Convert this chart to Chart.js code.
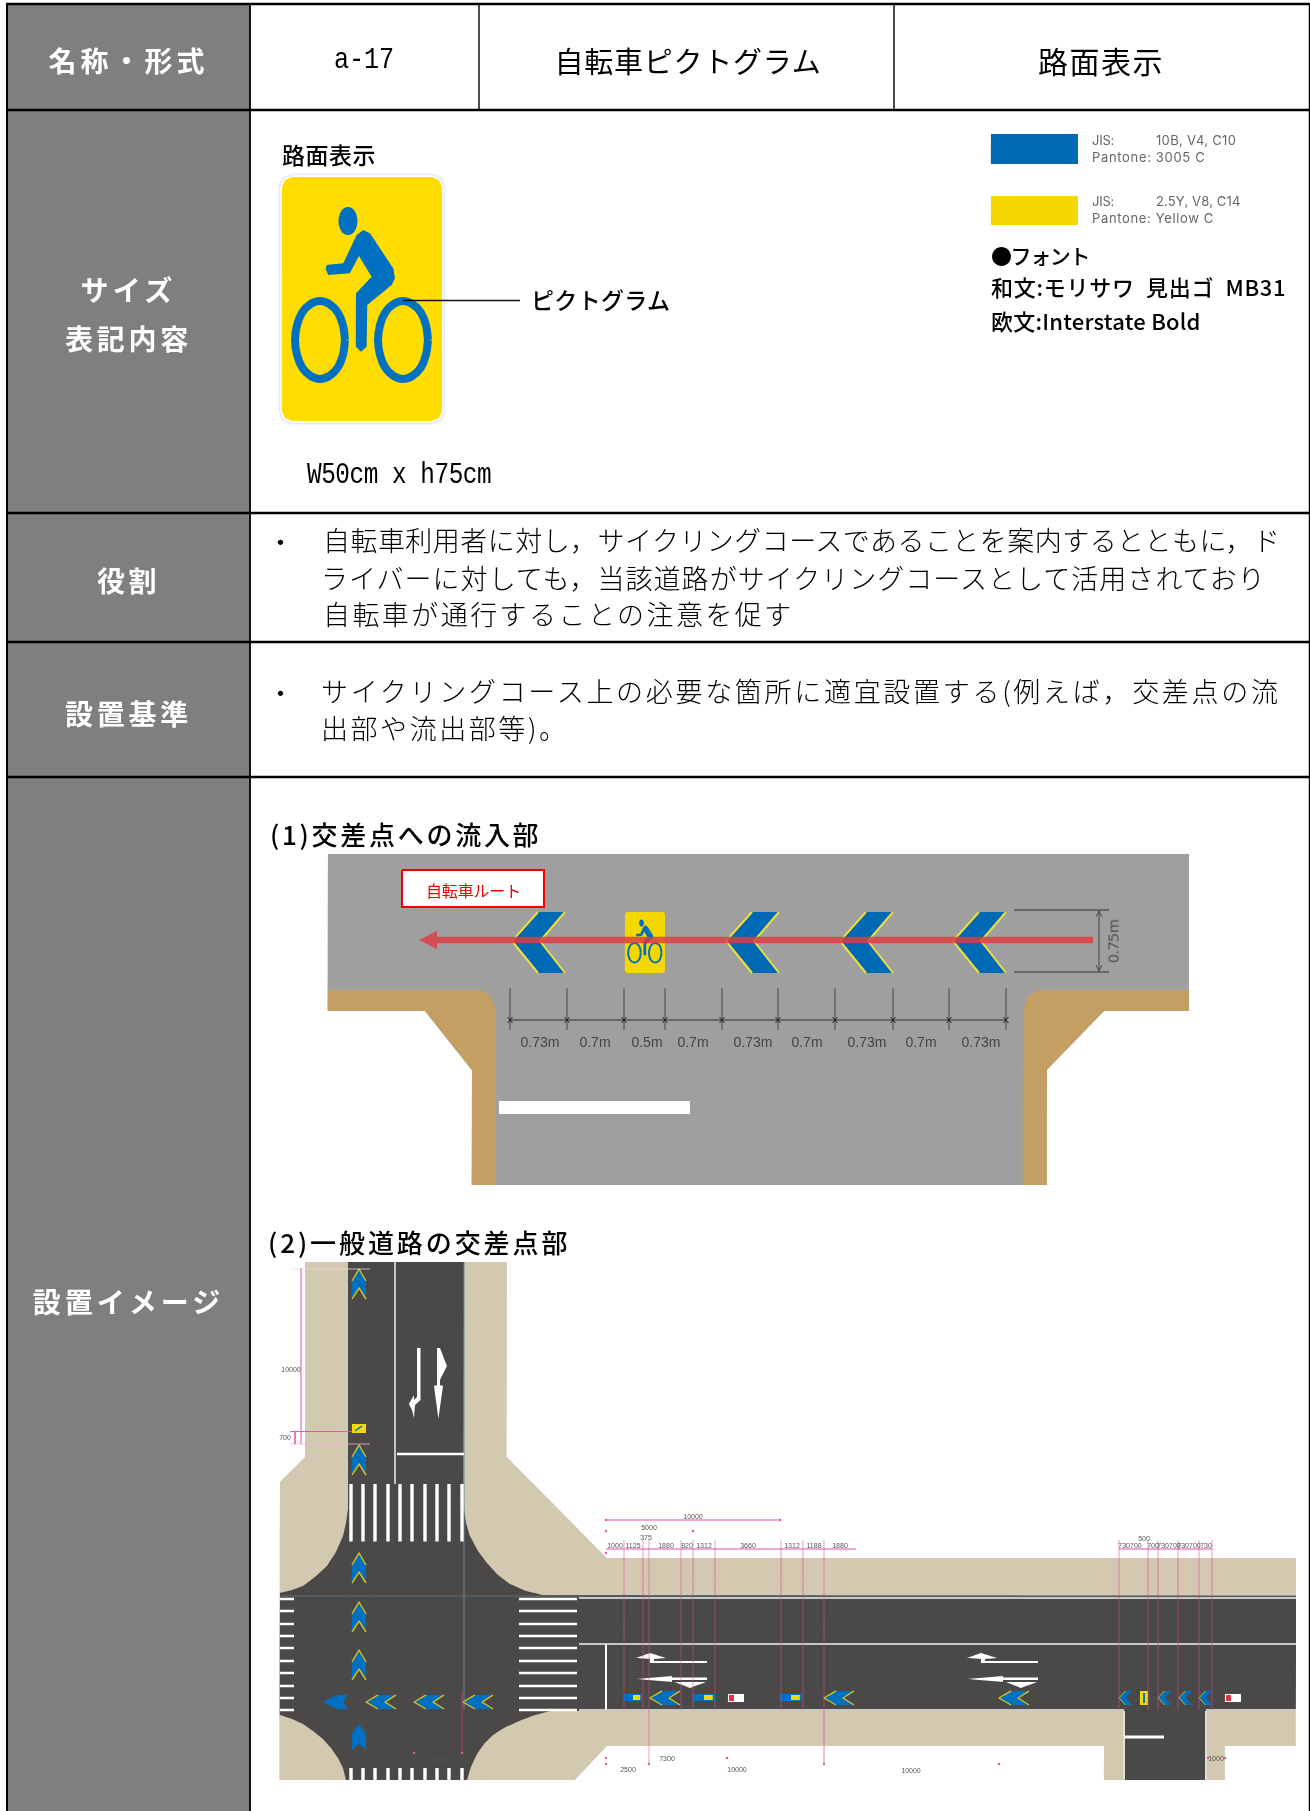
<!DOCTYPE html>
<html lang="ja">
<head>
<meta charset="utf-8">
<title>a-17 自転車ピクトグラム</title>
<script src="https://cdn.jsdelivr.net/npm/chart.js@4"></script>
<style>
  html, body { margin: 0; background: #fff; }
  #page { position: relative; width: 1310px; height: 1811px; overflow: hidden; }
  #sheet { position: absolute; left: 0; top: 0; }
  #page span { position: absolute; white-space: pre; line-height: 1; font-family: "Noto Sans CJK JP", sans-serif; }
</style>
</head>
<body>
<div id="page"><canvas id="sheet" width="1310" height="1811"></canvas></div>
<script>
// table grid
const rowLines = [4, 110, 513, 642, 777];
const columnLines = [479, 894];

const signOutline = [[292,177],[432,177],[439,180],[442,187],[442,411],[439,418],[432,421],[292,421],[285,418],[282,411],[282,187],[285,180]];
const riderOutline = [[325.7,269.3],[326.7,265],[343.3,263.3],[356.7,235],[363.3,230],[370,233.3],[393.3,268.3],[395,278.3],[391.7,285],[367.3,305],[366.7,346.7],[361,351.7],[356,346.7],[356,293.3],[371.7,276.7],[359,256],[350,273.3],[328.3,275]];
const roundOutline = [[1,0],[.92,.38],[.71,.71],[.38,.92],[0,1],[-.38,.92],[-.71,.71],[-.92,.38],[-1,0],[-.92,-.38],[-.71,-.71],[-.38,-.92],[0,-1],[.38,-.92],[.71,-.71],[.92,-.38],[1,0]];

// (1) approach diagram
const bigChevronOutline = [[0,29],[26,0],[53,0],[28,29],[53,61],[26,61]];
const bigChevronLeftEdge = [[26,0],[0,29],[26,61]];
const bigChevronRightEdge = [[53,0],[28,29],[53,61]];
const bigChevronTips = [512, 726, 840, 953];
const dimTicks = [510, 567, 624, 665, 722, 778, 835, 893, 949, 1006];
const dimLabels = ["0.73m", "0.7m", "0.5m", "0.7m", "0.73m", "0.7m", "0.73m", "0.7m", "0.73m"];
const dimLabelCentres = [540, 595, 647, 693, 753, 807, 867, 921, 981];
const kerbLeft = [[328,990],[480,990],[490,995],[496,1010],[496,1185],[472,1185],[472,1070],[425,1011],[328,1011]];
const kerbRight = [[1189,990],[1037,990],[1028,996],[1023,1012],[1023,1185],[1047,1185],[1047,1070],[1104,1011],[1189,1011]];
const yardLeft = [[326,1011],[425,1011],[472,1070],[472,1187],[326,1187]];
const yardRight = [[1047,1070],[1104,1011],[1191,1011],[1191,1187],[1047,1187]];

// (2) junction diagram
const groundOutline = [[305,1262],[507,1262],[507,1457],[607,1558],[1296,1558],[1296,1746],[1225,1746],[1225,1780],[1104,1780],[1104,1746],[607,1746],[575,1780],[280,1780],[280,1482],[305,1457]];
const roadOutline = [[348,1262],[464,1262],[464,1509],[466,1523],[470,1536],[478,1551],[487,1563],[498,1575],[510,1584],[526,1591],[543,1595],[1296,1596],[1296,1711],[550,1711],[532,1716],[517,1722],[504,1728],[493,1735],[484,1744],[477,1754],[471,1767],[467,1780],[346,1780],[343,1768],[338,1758],[331,1748],[323,1739],[313,1731],[303,1724],[292,1719],[280,1715],[280,1593],[292,1590],[303,1586],[315,1577],[327,1566],[336,1552],[343,1536],[346,1523],[348,1509]];
const northBars = [351, 363, 375, 388, 400, 412, 425, 437, 449, 462];
const crossBars = [1599, 1611, 1624, 1636, 1648, 1661, 1673, 1686, 1698, 1710];
const upPairBody = [[-7,12],[0,0],[7,12],[7,30],[0,19],[-7,30]];
const upPairTop = [[-7,12],[0,0],[7,12]];
const upPairLow = [[-7,30],[0,19],[7,30]];
const upPairTops = [1269, 1445, 1553, 1602, 1650];
const leftPairs = [[366,1702],[414,1702],[463,1702],[650,1698],[824,1698],[999,1698]];
const narrowChevrons = [1119, 1158, 1179, 1199];
const blueTags = [[624,18],[693,22],[780,22]];
const redTags = [728, 1225];
const turnLeftArrow = [[417,1348],[420.5,1348],[420.5,1400],[415,1405],[414,1418],[412,1410],[409,1404],[414,1395],[414,1400],[417,1397]];
const straightRightArrow = [[437,1348],[440,1348],[447,1366],[440,1380],[440,1385],[443,1386],[438.5,1419],[434,1386],[437,1385]];
const laneArrowA = [[636,1658],[650,1653],[666,1658],[654,1659],[654,1661],[707,1661],[707,1663],[650,1663],[650,1659]];
const laneArrowB = [[637,1679],[672,1676],[672,1677.5],[707,1677.5],[707,1680],[672,1680],[672,1682]];
const laneArrowC = [[675,1682],[706,1682],[690,1688]];
const laneArrowOffsets = [0, 331];
const pinkDrops = [624, 643, 649, 681, 693, 715, 781, 803, 824, 1119, 1148, 1158, 1178, 1199, 1212];
const pinkDots = [[606,1520],[780,1520],[606,1531],[693,1531],[606,1553],[606,1758],[727,1758],[606,1764],[649,1764],[824,1764],[999,1764],[1208,1758],[1225,1758],[414,1753],[462,1753]];
const smallDims = [["10000",693,1516],["5000",649,1527],["375",646,1537],["1000",615,1545],["1125",633,1545],["1880",666,1545],["820",687,1545],["1312",704,1545],["3660",748,1545],["1312",792,1545],["1188",814,1545],["1880",840,1545],["500",1144,1538],["730700",1130,1545],["700",1153,1545],["730700",1169,1545],["730700",1189,1545],["730",1206,1545],["7300",667,1758],["2500",628,1769],["10000",737,1769],["10000",911,1770],["1000",1216,1758],["10000",291,1369],["700",285,1437],["2860",440,1759]];

// colours
const GREY = "#7f7f7f", BLUE = "#0070c0", YELLOW = "#ffdd00", CHIP = "#f5d800", ROAD = "#4b4947", TAN = "#d3c8b0", KERB = "#c49f63", PAVE = "#9f9f9f", PINK = "#e0559f", PALE = "#f4a6d2";

const sets = [];
const toXY = pts => pts.map(p => ({ x: p[0], y: p[1] }));
const closed = pts => pts.concat([pts[0]]);
function poly(pts, color, edge, w, bend) {
  sets.push({ data: toXY(closed(pts)), fill: "shape", backgroundColor: color, borderColor: edge || color, borderWidth: w === undefined ? 0 : w, tension: bend || 0.0001 });
}
function line(pts, color, w, bend) {
  sets.push({ data: toXY(pts), fill: false, borderColor: color, borderWidth: w, tension: bend || 0.0001 });
}
function box(x0, y0, x1, y1, color, edge, w) {
  poly([[x0,y0],[x1,y0],[x1,y1],[x0,y1]], color, edge, w);
}
const move = (pts, ox, oy, sx = 1, sy = sx) => pts.map(p => [ox + p[0] * sx, oy + p[1] * sy]);
// sideways version of the up pointing pair, same pieces with x and y swapped
const sideways = (pts, ox, oy) => pts.map(p => [ox + p[1], oy + p[0]]);

function drawSign(x, y, k, ky) {
  const put = pts => pts.map(p => [x + (p[0] - 282) * k, y + (p[1] - 177) * ky]);
  poly(put(signOutline), k > 0.5 ? YELLOW : CHIP);
  poly(put(riderOutline), BLUE);
  poly(put(move(roundOutline, 348, 221, 9.5, 14)), BLUE, null, 0, 0.4);
  line(put(move(roundOutline, 320, 340, 25, 39)), BLUE, 8 * k, 0.4);
  line(put(move(roundOutline, 403, 340, 25, 39)), BLUE, 8 * k, 0.4);
}
function bigChevron(x) {
  poly(move(bigChevronOutline, x, 912), "#0069b4");
  line(move(bigChevronLeftEdge, x, 912), "#f0dc3a", 2);
  line(move(bigChevronRightEdge, x, 912), "#f0dc3a", 2);
}

// grey label column
box(8, 4, 250, 1811, GREY);

// big sign with halo
line(closed(signOutline), "#e6edf7", 7);
line(closed(signOutline), "#ffffff", 3);
drawSign(282, 177, 1, 1);
line([[403,300.5],[520,300.5]], "#111", 1.6);
box(991, 134, 1078, 164, "#0069b4");
box(991, 196, 1078, 225, "#f5d800");

// (1) approach diagram
box(328, 854, 1189, 1185, PAVE);
poly(yardLeft, "#fff");
poly(yardRight, "#fff");
poly(kerbLeft, KERB);
poly(kerbRight, KERB);
box(499, 1101, 690, 1114, "#fff");
bigChevronTips.forEach(bigChevron);
drawSign(625, 912, 0.25, 0.25);
line([[1093,940],[437,940]], "rgba(222,60,64,0.82)", 6.5);
poly([[419,940],[437,931],[437,949]], "rgba(222,60,64,0.82)");
box(402, 870, 544, 907, "#fff", "#f00000", 2);
line([[510,1020],[1006,1020]], "#555", 1.5);
dimTicks.forEach(x => {
  line([[x,988],[x,1030]], "#444", 1);
  line([[x - 2.5,1017],[x + 2.5,1023]], "#222", 1);
  line([[x - 2.5,1023],[x + 2.5,1017]], "#222", 1);
});
line([[1014,910],[1109,910]], "#555", 1.5);
line([[1014,972],[1109,972]], "#555", 1.5);
line([[1099,911],[1099,971]], "#444", 1);
line([[1096,917],[1099,911],[1102,917]], "#444", 1);
line([[1096,965],[1099,971],[1102,965]], "#444", 1);

// (2) junction diagram
poly(groundOutline, TAN);
poly(roadOutline, ROAD);
box(1124, 1710, 1206, 1780, ROAD);
line([[280,1596],[1296,1596]], "#56707f", 1);
line([[464,1262],[464,1710]], "#6b8490", 1);
line([[395,1262],[395,1484]], "#c4c4c4", 2);
line([[397,1454],[464,1454]], "#fff", 2.5);
northBars.forEach(x => {
  box(x - 1.7, 1484, x + 1.7, 1541.5, "#fff");
  box(x - 1.7, 1768, x + 1.7, 1780, "#fff");
});
crossBars.forEach(y => {
  box(280, y - 1.2, 294, y + 1.2, "#fff");
  box(519, y - 1.2, 577, y + 1.2, "#fff");
});
line([[579,1598],[1296,1598]], "#c8c8c8", 2);
line([[579,1644],[1296,1644]], "#c8c8c8", 2);
line([[579,1710],[1124,1710]], "#c8c8c8", 2);
line([[1206,1710],[1296,1710]], "#c8c8c8", 2);
line([[606,1644],[606,1710]], "#fff", 2);
line([[1124,1711],[1124,1780]], "#e0e0e0", 2);
line([[1206,1711],[1206,1780]], "#e0e0e0", 2);
line([[1124,1737],[1164,1737]], "#fff", 3);
poly(turnLeftArrow, "#fff");
poly(straightRightArrow, "#fff");
laneArrowOffsets.forEach(dx => {
  poly(move(laneArrowA, dx, 0), "#fff");
  poly(move(laneArrowB, dx, 0), "#fff");
  poly(move(laneArrowC, dx, 0), "#fff");
});
upPairTops.forEach(y => {
  poly(move(upPairBody, 359, y), BLUE);
  line(move(upPairTop, 359, y), "#d8bf1c", 1.4);
  line(move(upPairLow, 359, y), "#d8bf1c", 1.4);
});
leftPairs.forEach(p => {
  poly(sideways(upPairBody, p[0], p[1]), BLUE);
  line(sideways(upPairTop, p[0], p[1]), "#d8bf1c", 1.4);
  line(sideways(upPairLow, p[0], p[1]), "#d8bf1c", 1.4);
});
narrowChevrons.forEach(x => {
  poly(move(bigChevronOutline, x, 1691, 0.25, 0.23), BLUE);
  line(move(bigChevronLeftEdge, x, 1691, 0.25, 0.23), "#d8bf1c", 1);
});
poly([[323,1702],[336,1695],[348,1695],[343,1702],[348,1709],[336,1709]], BLUE);
poly([[359,1724],[366,1733],[366,1750],[359,1744],[352,1750],[352,1733]], BLUE);
blueTags.forEach(t => {
  box(t[0], 1694, t[0] + t[1], 1701, BLUE);
  box(t[0] + t[1] * 0.5, 1695, t[0] + t[1] * 0.9, 1700, CHIP);
});
redTags.forEach(x => {
  box(x, 1694, x + 16, 1702, "#fff");
  box(x + 1, 1695, x + 6, 1701, "#e0304a");
});
box(352, 1424, 366, 1433, CHIP);
line([[355,1431],[362,1426]], BLUE, 1.5);
box(1140, 1691, 1148, 1705, CHIP);
line([[1144,1693],[1144,1703]], BLUE, 2);
// pink dimensions
line([[290,1269],[370,1269]], "#f7d4e6", 0.8);
line([[290,1444],[370,1444]], "#f2b8d8", 0.8);
line([[301,1268],[301,1444]], PALE, 2);
line([[295,1431.5],[295,1444]], PINK, 1.5);
line([[290,1431.5],[352,1431.5]], PINK, 1);
line([[606,1520],[780,1520]], PALE, 2);
line([[606,1549],[856,1549]], PALE, 2);
line([[1119,1549],[1212,1549]], PALE, 2);
pinkDrops.forEach(x => line([[x,1540],[x,1710]], "rgba(224,70,150,0.7)", 0.8));
line([[649,1710],[649,1764]], PINK, 0.6);
line([[824,1710],[824,1764]], PINK, 0.8);
line([[462,1692],[462,1753]], "#b83c80", 1);
sets.push({ data: toXY(pinkDots), showLine: false, pointRadius: 1.2, backgroundColor: PINK, borderWidth: 0 });

// table grid on top
rowLines.forEach(y => line([[6,y],[1310,y]], "#000", 2.4));
columnLines.forEach(x => line([[x,4],[x,110]], "#000", 1.4));
line([[7,4],[7,1811]], "#000", 2);
line([[250,4],[250,1811]], "#000", 1.8);
line([[1309.5,4],[1309.5,1811]], "#000", 1.4);

new Chart(document.getElementById("sheet"), {
  type: "scatter",
  // chart.js paints the first dataset last, the list above is bottom to top
  data: { datasets: sets.slice().reverse() },
  options: {
    responsive: false,
    animation: false,
    layout: { padding: 0, autoPadding: false },
    elements: { point: { radius: 0 } },
    datasets: { scatter: { showLine: true } },
    scales: {
      x: { type: "linear", display: false, min: 0, max: 1310 },
      y: { type: "linear", display: false, reverse: true, min: 0, max: 1811 }
    },
    plugins: { legend: { display: false }, tooltip: { enabled: false } }
  }
});

// text
const page = document.getElementById("page");
function tx(s, x, y, size, o = {}) {
  const el = document.createElement("span");
  el.textContent = s;
  el.style.left = x + "px";
  el.style.top = y + "px";
  el.style.fontSize = size + "px";
  el.style.color = o.color || "#000";
  el.style.fontWeight = o.weight || 400;
  if (o.font) el.style.fontFamily = o.font;
  const sx = o.sx || 1;
  el.style.transformOrigin = o.center ? "50% 50%" : "0 50%";
  el.style.transform = (o.center ? "translate(-50%,-50%)" : "translateY(-50%)") + (o.rot ? " rotate(" + o.rot + "deg)" : "") + (sx !== 1 ? " scaleX(" + sx + ")" : "");
  page.appendChild(el);
  if (o.w) el.style.letterSpacing = (o.w / sx - el.offsetWidth) / s.length + "px";
}
const MONO = '"Liberation Mono", monospace', LATIN = 'Inter, sans-serif', TINY = '"Liberation Sans", sans-serif';

const sideLabels = [["名称・形式", 60, 160], ["サイズ", 289, 96], ["表記内容", 338, 127], ["役割", 580, 63], ["設置基準", 713, 127], ["設置イメージ", 1301, 191]];
sideLabels.forEach(r => tx(r[0], 128.5, r[1], 28, { color: "#fff", weight: 700, center: true, w: r[2] }));

tx("a-17", 364, 60, 30, { font: MONO, center: true, w: 60, sx: 0.84 });
tx("自転車ピクトグラム", 688, 60, 29, { center: true, w: 267 });
tx("路面表示", 1101, 60, 30, { center: true, w: 126 });

tx("路面表示", 282, 154, 23, { w: 94, weight: 500 });
tx("ピクトグラム", 531, 299, 23, { w: 139, weight: 500 });
tx("W50cm x h75cm", 307, 475, 29, { font: MONO, w: 184, sx: 0.84 });

[["JIS:", 1092, 140, 22], ["10B, V4, C10", 1156, 140, 80], ["Pantone: 3005 C", 1092, 157, 113], ["JIS:", 1092, 201, 22], ["2.5Y, V8, C14", 1156, 201, 84], ["Pantone: Yellow C", 1092, 218, 122]]
  .forEach(r => tx(r[0], r[1], r[2], 13, { font: LATIN, color: "#666", w: r[3] }));
tx("●フォント", 991, 255, 21, { weight: 500, w: 98 });
tx("和文:モリサワ  見出ゴ  MB31", 991, 286, 22, { weight: 500, w: 295 });
tx("欧文:Interstate Bold", 991, 320, 22, { weight: 500, w: 210 });

tx("・", 268, 541, 25);
tx("自転車利用者に対し，サイクリングコースであることを案内するとともに，ド", 323, 539, 27, { w: 958, weight: 300 });
tx("ライバーに対しても，当該道路がサイクリングコースとして活用されており", 321, 577, 27, { w: 945, weight: 300 });
tx("自転車が通行することの注意を促す", 323, 613, 27, { w: 471, weight: 300 });
tx("・", 268, 692, 25);
tx("サイクリングコース上の必要な箇所に適宜設置する(例えば，交差点の流", 321, 690, 27, { w: 960, weight: 300 });
tx("出部や流出部等)。", 321, 727, 27, { w: 248, weight: 300 });

tx("(1)交差点への流入部", 270, 834, 26, { w: 271, weight: 500 });
tx("(2)一般道路の交差点部", 268, 1242, 26, { w: 302, weight: 500 });

tx("自転車ルート", 473.5, 890, 16, { color: "#f00000", center: true, w: 95 });
dimLabels.forEach((s, i) => tx(s, dimLabelCentres[i], 1042, 14, { color: "#444", center: true, font: TINY }));
tx("0.75m", 1113, 941, 15, { color: "#444", center: true, font: '"Open Sans", sans-serif', rot: -90 });
smallDims.forEach(r => tx(r[0], r[1], r[2], 7, { color: "#555", center: true, font: TINY }));
</script>
</body>
</html>
